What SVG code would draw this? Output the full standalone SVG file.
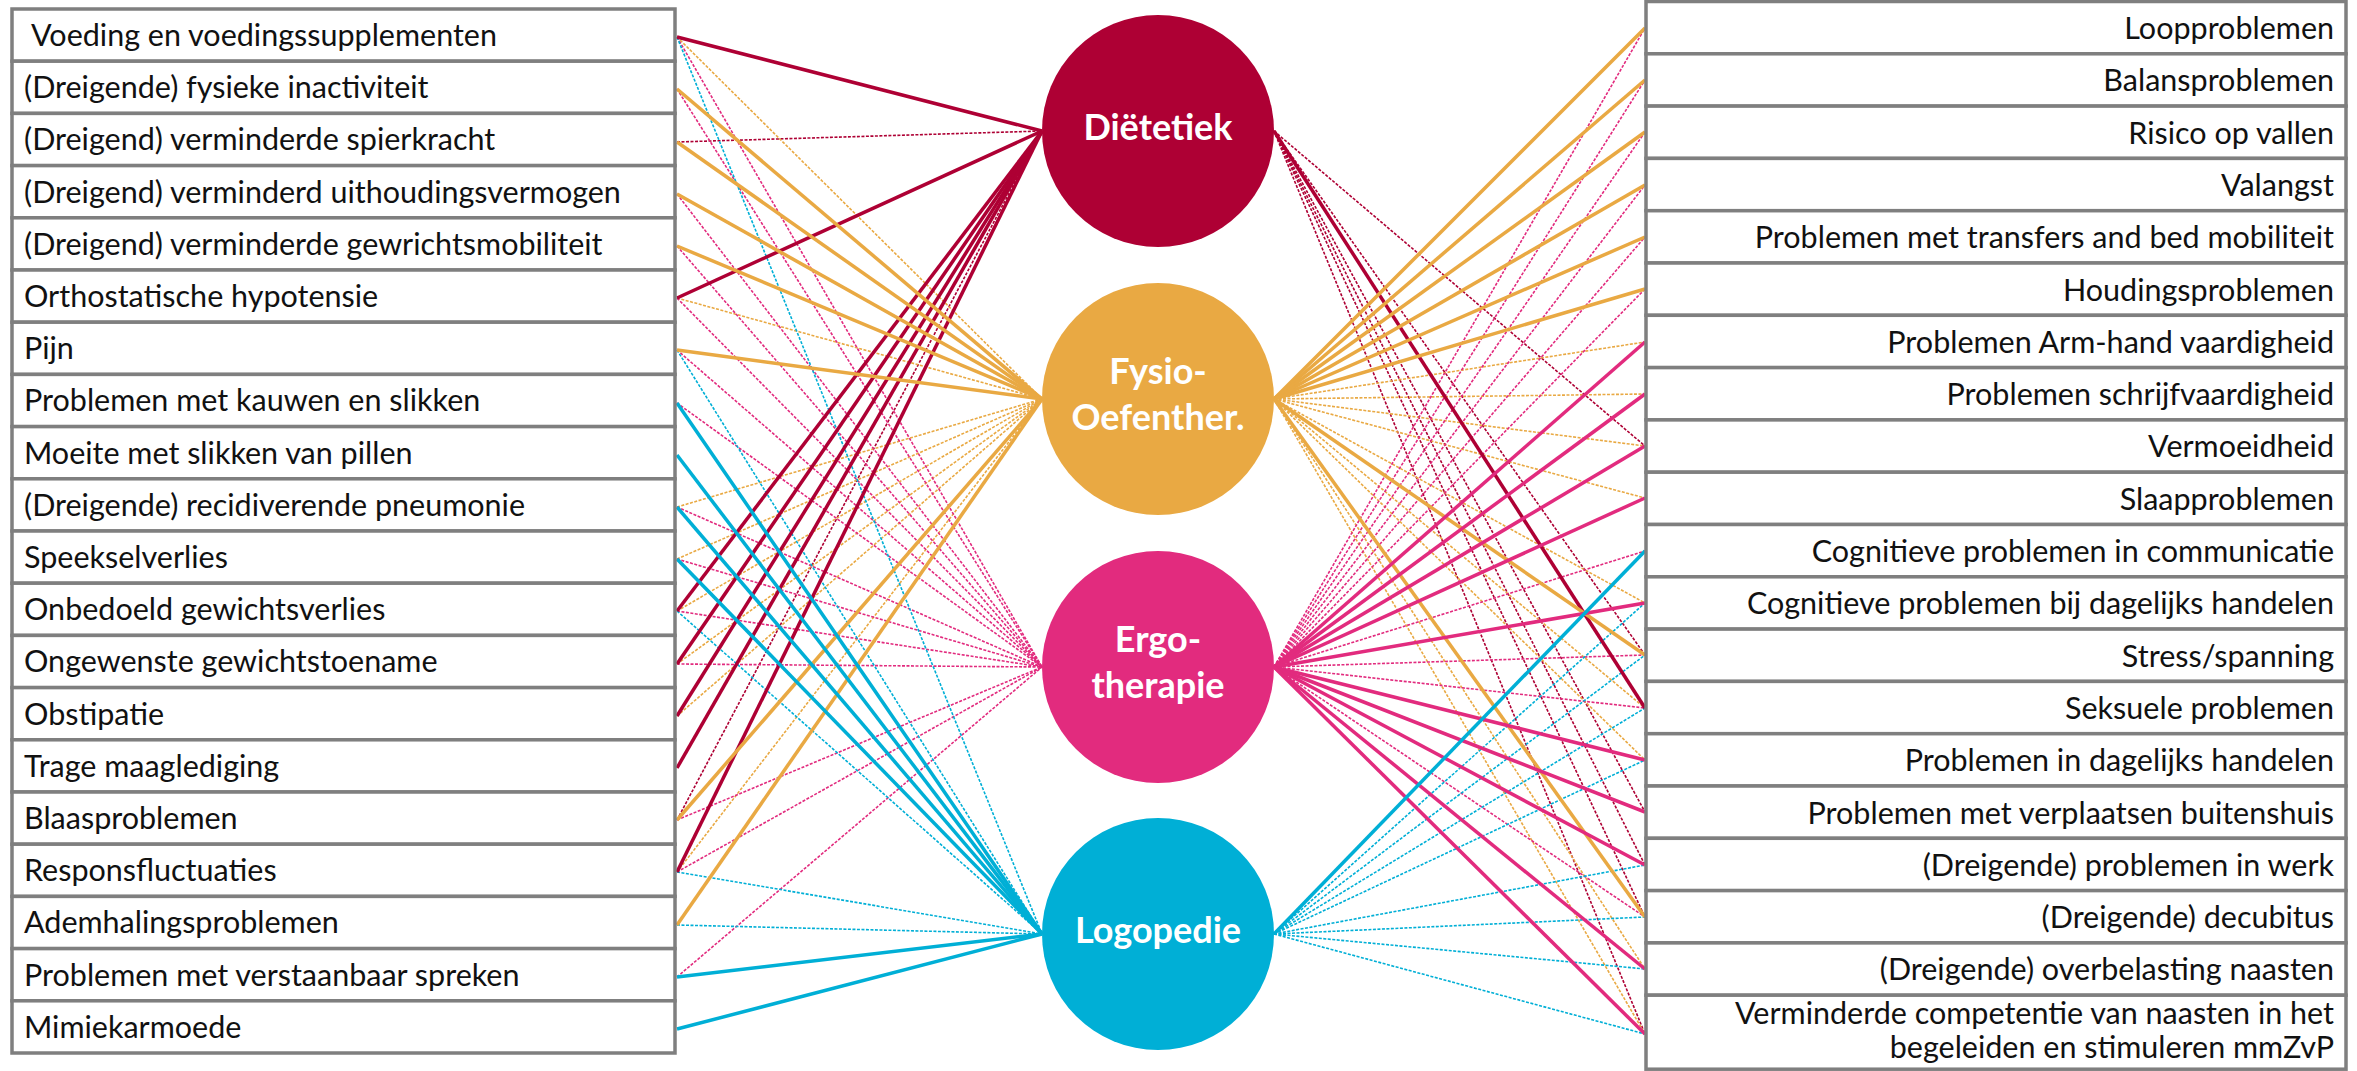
<svg xmlns="http://www.w3.org/2000/svg" width="2357" height="1071" viewBox="0 0 2357 1071">
<style>
.box{fill:#fff;stroke:#7f7f7f;stroke-width:3.5}
.lbl{font-family:Lato,"Liberation Sans",sans-serif;font-size:30.5px;fill:#111}
.r{text-anchor:end}
.ct{font-family:Lato,"Liberation Sans",sans-serif;font-weight:bold;font-size:36px;fill:#fff;text-anchor:middle}
line{fill:none}
.sD{stroke:#AE0034;stroke-width:3.5}
.sF{stroke:#E9A943;stroke-width:3.5}
.sE{stroke:#E22B7E;stroke-width:3.5}
.sL{stroke:#00AFD6;stroke-width:3.5}
.dD{stroke:#AE0034;stroke-width:1.6;stroke-dasharray:3 1.5}
.dF{stroke:#E9A943;stroke-width:1.6;stroke-dasharray:3 1.5}
.dE{stroke:#E22B7E;stroke-width:1.6;stroke-dasharray:3 1.5}
.dL{stroke:#00AFD6;stroke-width:1.6;stroke-dasharray:3 1.5}
</style>
<rect width="2357" height="1071" fill="#fff"/>
<g id="connectors">
<!-- left dotted -->
<line class="dD" x1="677" y1="142" x2="1042" y2="131"/>
<line class="dD" x1="677" y1="820" x2="1042" y2="131"/>
<line class="dF" x1="677" y1="37" x2="1042" y2="399"/>
<line class="dF" x1="677" y1="298" x2="1042" y2="399"/>
<line class="dF" x1="677" y1="507" x2="1042" y2="399"/>
<line class="dF" x1="677" y1="559" x2="1042" y2="399"/>
<line class="dF" x1="677" y1="611" x2="1042" y2="399"/>
<line class="dF" x1="677" y1="664" x2="1042" y2="399"/>
<line class="dF" x1="677" y1="716" x2="1042" y2="399"/>
<line class="dF" x1="677" y1="872" x2="1042" y2="399"/>
<line class="dE" x1="677" y1="37" x2="1042" y2="667"/>
<line class="dE" x1="677" y1="89" x2="1042" y2="667"/>
<line class="dE" x1="677" y1="194" x2="1042" y2="667"/>
<line class="dE" x1="677" y1="246" x2="1042" y2="667"/>
<line class="dE" x1="677" y1="298" x2="1042" y2="667"/>
<line class="dE" x1="677" y1="350" x2="1042" y2="667"/>
<line class="dE" x1="677" y1="403" x2="1042" y2="667"/>
<line class="dE" x1="677" y1="507" x2="1042" y2="667"/>
<line class="dE" x1="677" y1="559" x2="1042" y2="667"/>
<line class="dE" x1="677" y1="611" x2="1042" y2="667"/>
<line class="dE" x1="677" y1="664" x2="1042" y2="667"/>
<line class="dE" x1="677" y1="820" x2="1042" y2="667"/>
<line class="dE" x1="677" y1="872" x2="1042" y2="667"/>
<line class="dE" x1="677" y1="977" x2="1042" y2="667"/>
<line class="dL" x1="677" y1="37" x2="1042" y2="934"/>
<line class="dL" x1="677" y1="350" x2="1042" y2="934"/>
<line class="dL" x1="677" y1="611" x2="1042" y2="934"/>
<line class="dL" x1="677" y1="872" x2="1042" y2="934"/>
<line class="dL" x1="677" y1="925" x2="1042" y2="934"/>
<!-- right dotted -->
<line class="dD" x1="1274" y1="131" x2="1645" y2="446"/>
<line class="dD" x1="1274" y1="131" x2="1645" y2="655"/>
<line class="dD" x1="1274" y1="131" x2="1645" y2="812"/>
<line class="dD" x1="1274" y1="131" x2="1645" y2="865"/>
<line class="dD" x1="1274" y1="131" x2="1645" y2="917"/>
<line class="dD" x1="1274" y1="131" x2="1645" y2="1034"/>
<line class="dF" x1="1274" y1="399" x2="1645" y2="342"/>
<line class="dF" x1="1274" y1="399" x2="1645" y2="394"/>
<line class="dF" x1="1274" y1="399" x2="1645" y2="446"/>
<line class="dF" x1="1274" y1="399" x2="1645" y2="498"/>
<line class="dF" x1="1274" y1="399" x2="1645" y2="603"/>
<line class="dF" x1="1274" y1="399" x2="1645" y2="708"/>
<line class="dF" x1="1274" y1="399" x2="1645" y2="760"/>
<line class="dF" x1="1274" y1="399" x2="1645" y2="969"/>
<line class="dF" x1="1274" y1="399" x2="1645" y2="1034"/>
<line class="dE" x1="1274" y1="667" x2="1645" y2="28"/>
<line class="dE" x1="1274" y1="667" x2="1645" y2="80"/>
<line class="dE" x1="1274" y1="667" x2="1645" y2="132"/>
<line class="dE" x1="1274" y1="667" x2="1645" y2="185"/>
<line class="dE" x1="1274" y1="667" x2="1645" y2="237"/>
<line class="dE" x1="1274" y1="667" x2="1645" y2="289"/>
<line class="dE" x1="1274" y1="667" x2="1645" y2="551"/>
<line class="dE" x1="1274" y1="667" x2="1645" y2="655"/>
<line class="dE" x1="1274" y1="667" x2="1645" y2="708"/>
<line class="dE" x1="1274" y1="667" x2="1645" y2="917"/>
<line class="dL" x1="1274" y1="934" x2="1645" y2="603"/>
<line class="dL" x1="1274" y1="934" x2="1645" y2="655"/>
<line class="dL" x1="1274" y1="934" x2="1645" y2="708"/>
<line class="dL" x1="1274" y1="934" x2="1645" y2="760"/>
<line class="dL" x1="1274" y1="934" x2="1645" y2="865"/>
<line class="dL" x1="1274" y1="934" x2="1645" y2="917"/>
<line class="dL" x1="1274" y1="934" x2="1645" y2="969"/>
<line class="dL" x1="1274" y1="934" x2="1645" y2="1034"/>
<!-- left solid -->
<line class="sD" x1="677" y1="37" x2="1042" y2="131"/>
<line class="sD" x1="677" y1="298" x2="1042" y2="131"/>
<line class="sD" x1="677" y1="611" x2="1042" y2="131"/>
<line class="sD" x1="677" y1="664" x2="1042" y2="131"/>
<line class="sD" x1="677" y1="716" x2="1042" y2="131"/>
<line class="sD" x1="677" y1="768" x2="1042" y2="131"/>
<line class="sD" x1="677" y1="872" x2="1042" y2="131"/>
<line class="sF" x1="677" y1="89" x2="1042" y2="399"/>
<line class="sF" x1="677" y1="142" x2="1042" y2="399"/>
<line class="sF" x1="677" y1="194" x2="1042" y2="399"/>
<line class="sF" x1="677" y1="246" x2="1042" y2="399"/>
<line class="sF" x1="677" y1="350" x2="1042" y2="399"/>
<line class="sF" x1="677" y1="820" x2="1042" y2="399"/>
<line class="sF" x1="677" y1="925" x2="1042" y2="399"/>
<line class="sL" x1="677" y1="403" x2="1042" y2="934"/>
<line class="sL" x1="677" y1="455" x2="1042" y2="934"/>
<line class="sL" x1="677" y1="507" x2="1042" y2="934"/>
<line class="sL" x1="677" y1="559" x2="1042" y2="934"/>
<line class="sL" x1="677" y1="977" x2="1042" y2="934"/>
<line class="sL" x1="677" y1="1029" x2="1042" y2="934"/>
<!-- right solid -->
<line class="sD" x1="1274" y1="131" x2="1645" y2="708"/>
<line class="sF" x1="1274" y1="399" x2="1645" y2="28"/>
<line class="sF" x1="1274" y1="399" x2="1645" y2="80"/>
<line class="sF" x1="1274" y1="399" x2="1645" y2="132"/>
<line class="sF" x1="1274" y1="399" x2="1645" y2="185"/>
<line class="sF" x1="1274" y1="399" x2="1645" y2="237"/>
<line class="sF" x1="1274" y1="399" x2="1645" y2="289"/>
<line class="sF" x1="1274" y1="399" x2="1645" y2="655"/>
<line class="sF" x1="1274" y1="399" x2="1645" y2="917"/>
<line class="sE" x1="1274" y1="667" x2="1645" y2="342"/>
<line class="sE" x1="1274" y1="667" x2="1645" y2="394"/>
<line class="sE" x1="1274" y1="667" x2="1645" y2="446"/>
<line class="sE" x1="1274" y1="667" x2="1645" y2="498"/>
<line class="sE" x1="1274" y1="667" x2="1645" y2="603"/>
<line class="sE" x1="1274" y1="667" x2="1645" y2="760"/>
<line class="sE" x1="1274" y1="667" x2="1645" y2="812"/>
<line class="sE" x1="1274" y1="667" x2="1645" y2="865"/>
<line class="sE" x1="1274" y1="667" x2="1645" y2="969"/>
<line class="sE" x1="1274" y1="667" x2="1645" y2="1034"/>
<line class="sL" x1="1274" y1="934" x2="1645" y2="551"/>
</g>
<g id="dietetiek"><circle cx="1158" cy="131" r="116" fill="#AE0034"/><text class="ct" x="1158" y="140">Diëtetiek</text></g>
<g id="fysio"><circle cx="1158" cy="399" r="116" fill="#E9A943"/><text class="ct" x="1158" y="384">Fysio-</text><text class="ct" x="1158" y="430">Oefenther.</text></g>
<g id="ergo"><circle cx="1158" cy="667" r="116" fill="#E22B7E"/><text class="ct" x="1158" y="652">Ergo-</text><text class="ct" x="1158" y="698">therapie</text></g>
<g id="logopedie"><circle cx="1158" cy="934" r="116" fill="#00AFD6"/><text class="ct" x="1158" y="943">Logopedie</text></g>
<g id="l0"><rect class="box" x="12" y="9" width="663" height="52.2"/><text class="lbl" x="31" y="46">Voeding en voedingssupplementen</text></g>
<g id="l1"><rect class="box" x="12" y="61.2" width="663" height="52.2"/><text class="lbl" x="24" y="98.2">(Dreigende) fysieke inactiviteit</text></g>
<g id="l2"><rect class="box" x="12" y="113.4" width="663" height="52.2"/><text class="lbl" x="24" y="150.4">(Dreigend) verminderde spierkracht</text></g>
<g id="l3"><rect class="box" x="12" y="165.6" width="663" height="52.2"/><text class="lbl" x="24" y="202.6">(Dreigend) verminderd uithoudingsvermogen</text></g>
<g id="l4"><rect class="box" x="12" y="217.8" width="663" height="52.2"/><text class="lbl" x="24" y="254.8">(Dreigend) verminderde gewrichtsmobiliteit</text></g>
<g id="l5"><rect class="box" x="12" y="270" width="663" height="52.2"/><text class="lbl" x="24" y="307">Orthostatische hypotensie</text></g>
<g id="l6"><rect class="box" x="12" y="322.2" width="663" height="52.2"/><text class="lbl" x="24" y="359.2">Pijn</text></g>
<g id="l7"><rect class="box" x="12" y="374.4" width="663" height="52.2"/><text class="lbl" x="24" y="411.4">Problemen met kauwen en slikken</text></g>
<g id="l8"><rect class="box" x="12" y="426.6" width="663" height="52.2"/><text class="lbl" x="24" y="463.6">Moeite met slikken van pillen</text></g>
<g id="l9"><rect class="box" x="12" y="478.8" width="663" height="52.2"/><text class="lbl" x="24" y="515.8">(Dreigende) recidiverende pneumonie</text></g>
<g id="l10"><rect class="box" x="12" y="531" width="663" height="52.2"/><text class="lbl" x="24" y="568">Speekselverlies</text></g>
<g id="l11"><rect class="box" x="12" y="583.2" width="663" height="52.2"/><text class="lbl" x="24" y="620.2">Onbedoeld gewichtsverlies</text></g>
<g id="l12"><rect class="box" x="12" y="635.4" width="663" height="52.2"/><text class="lbl" x="24" y="672.4">Ongewenste gewichtstoename</text></g>
<g id="l13"><rect class="box" x="12" y="687.6" width="663" height="52.2"/><text class="lbl" x="24" y="724.6">Obstipatie</text></g>
<g id="l14"><rect class="box" x="12" y="739.8" width="663" height="52.2"/><text class="lbl" x="24" y="776.8">Trage maaglediging</text></g>
<g id="l15"><rect class="box" x="12" y="792" width="663" height="52.2"/><text class="lbl" x="24" y="829">Blaasproblemen</text></g>
<g id="l16"><rect class="box" x="12" y="844.2" width="663" height="52.2"/><text class="lbl" x="24" y="881.2">Responsfluctuaties</text></g>
<g id="l17"><rect class="box" x="12" y="896.4" width="663" height="52.2"/><text class="lbl" x="24" y="933.4">Ademhalingsproblemen</text></g>
<g id="l18"><rect class="box" x="12" y="948.6" width="663" height="52.2"/><text class="lbl" x="24" y="985.6">Problemen met verstaanbaar spreken</text></g>
<g id="l19"><rect class="box" x="12" y="1000.8" width="663" height="52.2"/><text class="lbl" x="24" y="1037.8">Mimiekarmoede</text></g>
<g id="r0"><rect class="box" x="1646" y="1.5" width="700" height="52.3"/><text class="lbl r" x="2334" y="39">Loopproblemen</text></g>
<g id="r1"><rect class="box" x="1646" y="53.8" width="700" height="52.3"/><text class="lbl r" x="2334" y="91.3">Balansproblemen</text></g>
<g id="r2"><rect class="box" x="1646" y="106.1" width="700" height="52.3"/><text class="lbl r" x="2334" y="143.6">Risico op vallen</text></g>
<g id="r3"><rect class="box" x="1646" y="158.4" width="700" height="52.3"/><text class="lbl r" x="2334" y="195.9">Valangst</text></g>
<g id="r4"><rect class="box" x="1646" y="210.7" width="700" height="52.3"/><text class="lbl r" x="2334" y="248.2">Problemen met transfers and bed mobiliteit</text></g>
<g id="r5"><rect class="box" x="1646" y="263" width="700" height="52.3"/><text class="lbl r" x="2334" y="300.5">Houdingsproblemen</text></g>
<g id="r6"><rect class="box" x="1646" y="315.3" width="700" height="52.3"/><text class="lbl r" x="2334" y="352.8">Problemen Arm-hand vaardigheid</text></g>
<g id="r7"><rect class="box" x="1646" y="367.6" width="700" height="52.3"/><text class="lbl r" x="2334" y="405.1">Problemen schrijfvaardigheid</text></g>
<g id="r8"><rect class="box" x="1646" y="419.9" width="700" height="52.3"/><text class="lbl r" x="2334" y="457.4">Vermoeidheid</text></g>
<g id="r9"><rect class="box" x="1646" y="472.2" width="700" height="52.3"/><text class="lbl r" x="2334" y="509.7">Slaapproblemen</text></g>
<g id="r10"><rect class="box" x="1646" y="524.5" width="700" height="52.3"/><text class="lbl r" x="2334" y="562">Cognitieve problemen in communicatie</text></g>
<g id="r11"><rect class="box" x="1646" y="576.8" width="700" height="52.3"/><text class="lbl r" x="2334" y="614.3">Cognitieve problemen bij dagelijks handelen</text></g>
<g id="r12"><rect class="box" x="1646" y="629.1" width="700" height="52.3"/><text class="lbl r" x="2334" y="666.6">Stress/spanning</text></g>
<g id="r13"><rect class="box" x="1646" y="681.4" width="700" height="52.3"/><text class="lbl r" x="2334" y="718.9">Seksuele problemen</text></g>
<g id="r14"><rect class="box" x="1646" y="733.7" width="700" height="52.3"/><text class="lbl r" x="2334" y="771.2">Problemen in dagelijks handelen</text></g>
<g id="r15"><rect class="box" x="1646" y="786" width="700" height="52.3"/><text class="lbl r" x="2334" y="823.5">Problemen met verplaatsen buitenshuis</text></g>
<g id="r16"><rect class="box" x="1646" y="838.3" width="700" height="52.3"/><text class="lbl r" x="2334" y="875.8">(Dreigende) problemen in werk</text></g>
<g id="r17"><rect class="box" x="1646" y="890.6" width="700" height="52.3"/><text class="lbl r" x="2334" y="928.1">(Dreigende) decubitus</text></g>
<g id="r18"><rect class="box" x="1646" y="942.9" width="700" height="52.3"/><text class="lbl r" x="2334" y="980.4">(Dreigende) overbelasting naasten</text></g>
<g id="r19"><rect class="box" x="1646" y="995.2" width="700" height="74"/><text class="lbl r" x="2334" y="1024">Verminderde competentie van naasten in het</text><text class="lbl r" x="2334" y="1058">begeleiden en stimuleren mmZvP</text></g>
</svg>
